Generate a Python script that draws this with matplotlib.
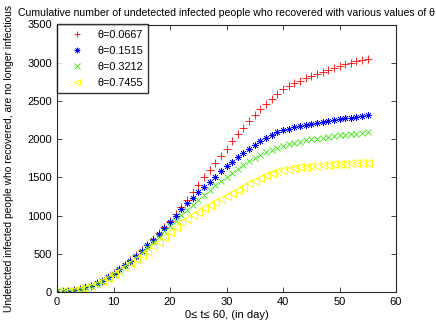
import matplotlib
matplotlib.use("Agg")
import matplotlib.pyplot as plt
import numpy as np

plt.rcParams['font.family'] = ['Liberation Sans', 'DejaVu Sans']

days = list(range(0, 56))

red_vals = [13, 15, 18, 26, 42, 60, 83, 112, 148, 192, 243, 297, 353, 414, 478, 548,
            620, 697, 775, 855, 935, 1025, 1112, 1210, 1306, 1405, 1500, 1595, 1689, 1783,
            1877, 1972, 2061, 2150, 2235, 2318, 2394, 2466, 2530, 2592, 2655, 2695, 2731,
            2765, 2797, 2826, 2853, 2880, 2908, 2933, 2957, 2980, 3000, 3018, 3035, 3050]
blue_vals = [13, 15, 18, 26, 42, 60, 83, 112, 148, 192, 242, 295, 350, 410, 472, 540,
             610, 685, 760, 835, 915, 998, 1080, 1160, 1235, 1305, 1375, 1443, 1510, 1578,
             1643, 1705, 1765, 1822, 1875, 1925, 1970, 2012, 2050, 2087, 2120, 2138, 2153,
             2168, 2182, 2196, 2210, 2224, 2237, 2249, 2261, 2272, 2283, 2293, 2302, 2310]
green_vals = [13, 15, 18, 26, 42, 60, 82, 110, 145, 188, 236, 287, 340, 397, 455, 520,
              585, 655, 725, 795, 865, 935, 1005, 1075, 1143, 1210, 1275, 1338, 1400, 1457,
              1510, 1558, 1615, 1665, 1710, 1752, 1792, 1828, 1860, 1890, 1915, 1935, 1952,
              1968, 1983, 1996, 2008, 2019, 2029, 2039, 2048, 2057, 2065, 2073, 2080, 2087]
yellow_vals = [13, 15, 18, 25, 40, 57, 78, 105, 138, 180, 235, 280, 326, 377, 430, 483,
               540, 600, 660, 718, 790, 855, 910, 960, 1005, 1050, 1095, 1135, 1175, 1215,
               1255, 1295, 1340, 1380, 1420, 1458, 1494, 1528, 1560, 1580, 1598, 1610, 1620,
               1630, 1639, 1647, 1654, 1660, 1666, 1671, 1676, 1680, 1684, 1687, 1689, 1691]

labels = ['θ=0.0667', 'θ=0.1515', 'θ=0.3212', 'θ=0.7455']

fig = plt.figure(figsize=(4.36, 3.28), dpi=100)
ax = fig.add_axes([57/436, 1-292/328, 339/436, 267.5/328])

ax.plot(days, red_vals, linestyle='none', marker='+', color='r', markersize=6, markeredgewidth=0.6, label=labels[0])
ax.plot(days, blue_vals, linestyle='none', marker=(8, 2, 0), color='b', markersize=5, markeredgewidth=0.5, label=labels[1])
ax.plot(days, green_vals, linestyle='none', marker='x', color=(0.2, 0.9, 0.0), markersize=5, markeredgewidth=0.6, label=labels[2])
ax.plot(days, yellow_vals, linestyle='none', marker='<', color=(1, 1, 0), markerfacecolor='none', markersize=6, markeredgewidth=0.7, label=labels[3])

ax.set_xlim(0, 60)
ax.set_ylim(0, 3500)
ax.set_xticks(np.arange(0, 61, 10))
ax.set_yticks(np.arange(0, 3501, 500))
ax.tick_params(direction='in', top=True, right=True, length=3.5, width=0.6, labelsize=8, colors='0.15', labelcolor='black')
for s in ax.spines.values():
    s.set_color('0.15')
    s.set_linewidth(0.8)

ax.set_title("Cumulative number of undetected infected people who recovered with various values of θ", fontsize=7.55, pad=6)
ax.set_xlabel("0≤ t≤ 60, (in day)", fontsize=8, labelpad=2)
ax.set_ylabel("Undetected infected people who recovered, are no longer infectious", fontsize=7.4, labelpad=10)

leg = ax.legend(loc='upper left', borderaxespad=0, fancybox=False, fontsize=7.8, markerscale=0.8,
                handlelength=2.6, handletextpad=0.6, labelspacing=0.55, borderpad=0.5)
leg.get_frame().set_edgecolor('black')
leg.get_frame().set_linewidth(1.0)

plt.savefig("out.png", dpi=100)
